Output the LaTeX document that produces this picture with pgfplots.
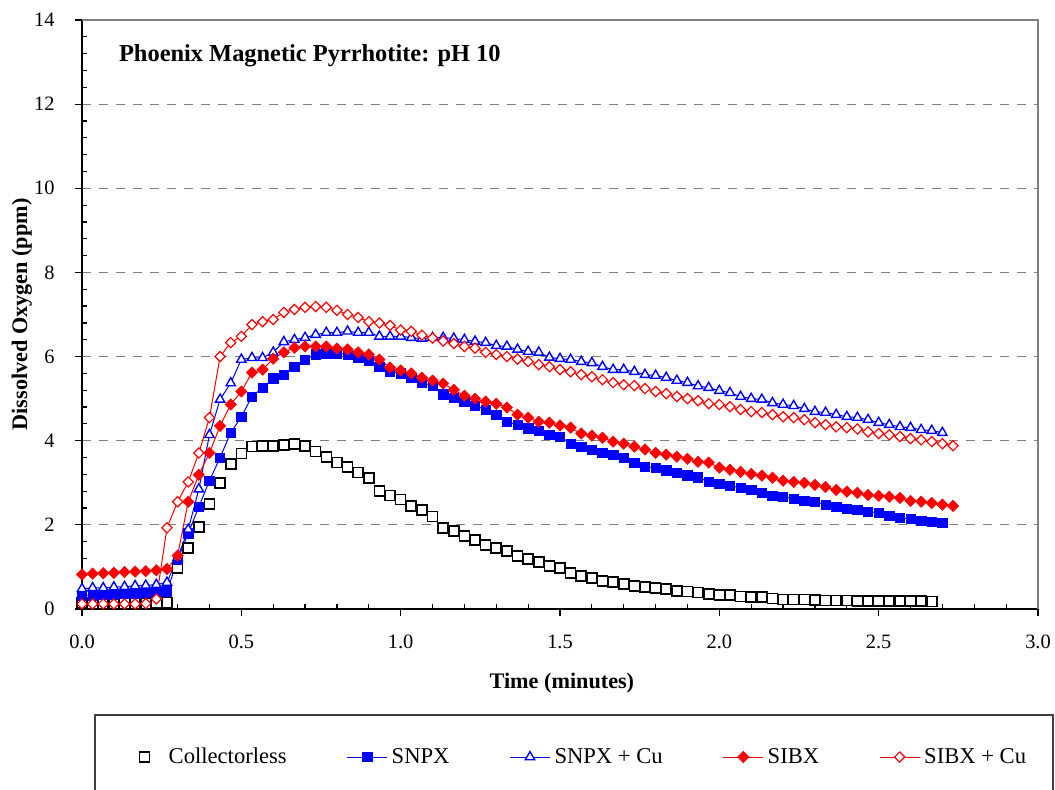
\documentclass[border=0pt]{standalone}
\usepackage{fontspec}
\setmainfont{Liberation Serif}
\usepackage{pgfplots}
\usepackage{pgfplotstable}
\pgfplotsset{compat=1.18}
\pgfplotsset{
  lineleg/.style={legend image code/.code={\draw[mark repeat=2, mark phase=2, ##1] plot coordinates {(0pt,0pt) (10pt,0pt) (20pt,0pt)};}},
}
\pgfplotstableread{
t C S SC B BC
0 0.14 0.33 0.48 0.82 0.12
0.0333 0.13 0.33 0.50 0.84 0.12
0.0667 0.13 0.34 0.50 0.85 0.12
0.1 0.13 0.35 0.52 0.86 0.12
0.1333 0.13 0.36 0.53 0.88 0.12
0.1667 0.13 0.37 0.55 0.89 0.12
0.2 0.13 0.38 0.56 0.90 0.13
0.2333 0.14 0.39 0.58 0.92 0.24
0.2667 0.15 0.42 0.63 0.95 1.93
0.3 0.97 1.17 1.22 1.27 2.55
0.3333 1.45 1.80 1.89 2.55 3.02
0.3667 1.95 2.43 2.85 3.19 3.71
0.4 2.50 3.05 4.14 3.71 4.55
0.4333 3.00 3.60 4.98 4.35 6.00
0.4667 3.45 4.19 5.37 4.86 6.33
0.5 3.70 4.57 5.93 5.17 6.48
0.5333 3.86 5.05 5.97 5.62 6.76
0.5667 3.88 5.26 5.97 5.69 6.83
0.6 3.88 5.48 6.10 5.95 6.88
0.6333 3.90 5.57 6.35 6.10 7.05
0.6667 3.92 5.76 6.40 6.21 7.12
0.7 3.88 5.93 6.45 6.24 7.17
0.7333 3.74 6.05 6.52 6.24 7.19
0.7667 3.62 6.08 6.57 6.24 7.17
0.8 3.48 6.08 6.57 6.19 7.10
0.8333 3.38 6.05 6.60 6.17 7.00
0.8667 3.24 5.97 6.57 6.10 6.93
0.9 3.12 5.90 6.57 6.05 6.83
0.9333 2.80 5.75 6.48 5.93 6.80
0.9667 2.70 5.65 6.48 5.74 6.74
1.0 2.60 5.60 6.48 5.67 6.63
1.0333 2.45 5.50 6.45 5.60 6.60
1.0667 2.36 5.38 6.43 5.50 6.51
1.1 2.20 5.31 6.45 5.43 6.44
1.1333 1.93 5.10 6.45 5.36 6.37
1.1667 1.86 5.02 6.43 5.21 6.31
1.2 1.74 4.93 6.40 5.07 6.24
1.2333 1.64 4.83 6.36 5.00 6.20
1.2667 1.52 4.74 6.33 4.93 6.10
1.3 1.45 4.62 6.26 4.88 6.05
1.3333 1.38 4.45 6.24 4.79 6.00
1.3667 1.26 4.38 6.17 4.62 5.94
1.4 1.19 4.30 6.12 4.55 5.88
1.4333 1.12 4.24 6.10 4.45 5.81
1.4667 1.02 4.14 5.98 4.43 5.76
1.5 0.98 4.10 5.95 4.36 5.69
1.5333 0.86 3.93 5.93 4.31 5.64
1.5667 0.79 3.86 5.88 4.17 5.57
1.6 0.74 3.79 5.85 4.12 5.52
1.6333 0.67 3.71 5.76 4.07 5.45
1.6667 0.64 3.67 5.69 3.98 5.38
1.7 0.60 3.60 5.69 3.93 5.33
1.7333 0.55 3.48 5.64 3.86 5.31
1.7667 0.52 3.38 5.57 3.79 5.24
1.8 0.50 3.35 5.55 3.71 5.17
1.8333 0.47 3.30 5.50 3.67 5.12
1.8667 0.43 3.24 5.43 3.62 5.05
1.9 0.42 3.18 5.38 3.57 5.00
1.9333 0.39 3.13 5.30 3.50 4.95
1.9667 0.36 3.02 5.26 3.48 4.88
2.0 0.34 2.98 5.19 3.36 4.86
2.0333 0.33 2.93 5.14 3.31 4.81
2.0667 0.30 2.88 5.05 3.26 4.74
2.1 0.29 2.83 5.00 3.21 4.69
2.1333 0.28 2.76 4.98 3.17 4.67
2.1667 0.25 2.69 4.90 3.12 4.62
2.2 0.23 2.67 4.86 3.05 4.57
2.2333 0.23 2.62 4.83 3.02 4.55
2.2667 0.23 2.57 4.76 3.00 4.50
2.3 0.21 2.55 4.69 2.95 4.43
2.3333 0.20 2.48 4.67 2.90 4.38
2.3667 0.20 2.43 4.62 2.83 4.33
2.4 0.20 2.38 4.57 2.79 4.31
2.4333 0.19 2.36 4.55 2.76 4.28
2.4667 0.19 2.31 4.50 2.71 4.21
2.5 0.19 2.29 4.43 2.69 4.17
2.5333 0.19 2.21 4.38 2.67 4.14
2.5667 0.19 2.17 4.33 2.64 4.10
2.6 0.19 2.14 4.31 2.57 4.05
2.6333 0.19 2.10 4.26 2.55 4.02
2.6667 0.18 2.07 4.24 2.52 3.98
2.7 nan 2.05 4.19 2.48 3.93
2.7333 nan nan nan 2.45 3.88
}\data

\begin{document}
\begin{tikzpicture}
\begin{axis}[
  name=ax, at={(0,0)}, anchor=south west,
  scale only axis, width=478pt, height=294.5pt,
  xmin=0, xmax=3, ymin=0, ymax=14,
  xtick={0,0.5,1,1.5,2,2.5,3}, ytick={0,2,4,6,8,10,12,14},
  minor x tick num=4, minor y tick num=4,
  axis x line*=bottom, axis y line*=left,
  axis line style={black, line width=0.75pt},
  tick align=outside, major tick length=3.6pt, minor tick length=-2.5pt,
  tick style={black, line width=0.6pt},
  ymajorgrids,
  major grid style={black!50, dash pattern=on 4.5pt off 4pt, line width=0.5pt},
  /pgf/number format/assume math mode=true,
  x tick label style={/pgf/number format/.cd, fixed, fixed zerofill, precision=1},
  ticklabel style={font=\fontsize{10.2}{12}\selectfont},
  xticklabel shift=6pt, yticklabel shift=6.6pt,
  xlabel={Time (minutes)}, ylabel={Dissolved Oxygen (ppm)},
  label style={font=\bfseries\fontsize{11.1}{13}\selectfont},
  xlabel style={at={(axis description cs:0.502,-0.1256)}, anchor=center},
  ylabel style={at={(axis description cs:-0.0628,0.5)}, anchor=center},
  clip=false,
  legend columns=5,
  legend style={at={(axis description cs:0.5178,-0.2513)}, anchor=center, draw=none, fill=none,
    font=\fontsize{11.3}{13}\selectfont,
    /tikz/every even column/.append style={column sep=28pt}},
  lineleg,
]
\addplot[black, draw opacity=0, mark=square*, mark size=2.5pt, mark options={draw=black, draw opacity=1, fill=white, line width=0.8pt}]
  table[x=t, y=C]{\data};
\addplot[blue, line width=0.5pt, mark=square*, mark size=2.35pt, mark options={blue, fill=blue, line width=0.3pt}]
  table[x=t, y=S]{\data};
\addplot[blue, line width=0.5pt, mark=triangle*, mark size=2.7pt, mark options={blue, fill=white, line width=0.7pt}]
  table[x=t, y=SC]{\data};
\addplot[red, line width=0.5pt, mark=square*, mark size=2pt, mark options={red, fill=red, rotate=45, line width=0.3pt}]
  table[x=t, y=B]{\data};
\addplot[red, line width=0.5pt, mark=square*, mark size=1.8pt, mark options={red, fill=white, rotate=45, line width=0.6pt}]
  table[x=t, y=BC]{\data};
\legend{Collectorless, SNPX, SNPX + Cu, SIBX, SIBX + Cu}
\node[anchor=west, font=\bfseries\fontsize{12.2}{14}\selectfont] at (rel axis cs:0.0314,0.94) {Phoenix Magnetic Pyrrhotite: pH 10};
\end{axis}
\draw[black!50, line width=0.75pt] (ax.north west) -- (ax.north east) -- (ax.south east);
\draw[black!75, line width=0.75pt] (6.5pt,-100pt) -- (6.5pt,-53pt) -- (485.5pt,-53pt) -- (485.5pt,-100pt);
\pgfresetboundingbox
\path[use as bounding box] (-41pt,-90pt) rectangle (486.5pt,304.5pt);
\end{tikzpicture}
\end{document}
